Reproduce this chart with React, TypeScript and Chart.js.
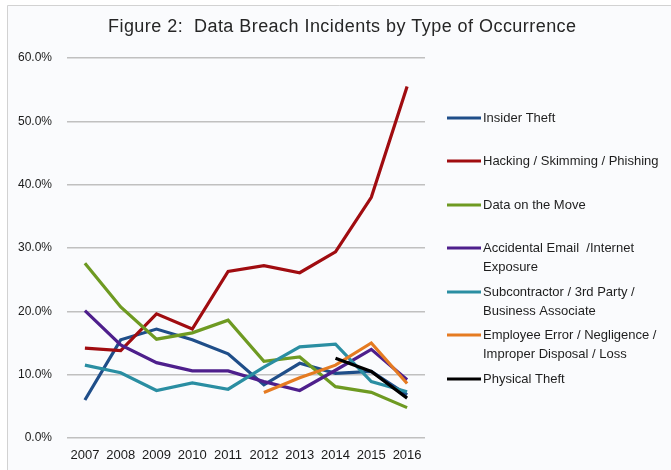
import React, { useEffect, useRef } from "react";
import { Chart, registerables } from "chart.js";

Chart.register(...registerables);

const years = ["2007", "2008", "2009", "2010", "2011", "2012", "2013", "2014", "2015", "2016"];
const insiderTheft = [6.0, 15.5, 17.2, 15.5, 13.3, 8.4, 11.8, 10.2, 10.5, 6.8];
const hacking = [14.2, 13.8, 19.6, 17.2, 26.3, 27.2, 26.1, 29.4, 38.0, 55.5];
const dataOnMove = [27.6, 20.7, 15.6, 16.6, 18.6, 12.1, 12.8, 8.1, 7.2, 4.8];
const accidental = [20.1, 14.7, 11.9, 10.6, 10.6, 8.9, 7.5, 10.7, 14.0, 9.2];
const subcontractor = [11.5, 10.3, 7.5, 8.7, 7.7, 11.2, 14.4, 14.8, 8.9, 7.3];
const employeeError = [null, null, null, null, null, 7.2, 9.5, 11.5, 15.0, 8.6];
const physicalTheft = [null, null, null, null, null, null, null, 12.6, 10.5, 6.3];

const seriesLabels = [
  "Insider Theft",
  "Hacking / Skimming / Phishing",
  "Data on the Move",
  "Accidental Email  /Internet\nExposure",
  "Subcontractor / 3rd Party /\nBusiness Associate",
  "Employee Error / Negligence /\nImproper Disposal / Loss",
  "Physical Theft",
];
const seriesColors = ["#1f4e89", "#a00c10", "#6e9a22", "#4e1f8c", "#2a8ea2", "#e57b22", "#000000"];
const seriesValues = [insiderTheft, hacking, dataOnMove, accidental, subcontractor, employeeError, physicalTheft];

const yTicks = [0, 10, 20, 30, 40, 50, 60];

const titleText = "Figure 2:  Data Breach Incidents by Type of Occurrence";

const overlayPlugin = {
  id: "overlay",
  beforeDraw(chart: any) {
    const ctx = chart.ctx;
    ctx.save();
    ctx.fillStyle = "#ffffff";
    ctx.fillRect(0, 0, chart.width, chart.height);
    ctx.fillStyle = "#fafbfd";
    ctx.fillRect(7, 5, chart.width - 7, chart.height - 5);
    ctx.strokeStyle = "#d2d2d2";
    ctx.lineWidth = 1;
    ctx.beginPath();
    ctx.moveTo(7.5, chart.height);
    ctx.lineTo(7.5, 5.5);
    ctx.lineTo(chart.width, 5.5);
    ctx.stroke();
    ctx.restore();
  },
  afterDraw(chart: any) {
    const ctx = chart.ctx;
    ctx.save();
    ctx.fillStyle = "#262626";
    ctx.font = '18px "Liberation Sans", Arial, sans-serif';
    try {
      (ctx as any).letterSpacing = "0.45px";
    } catch (e) {}
    ctx.textAlign = "left";
    ctx.textBaseline = "middle";
    ctx.fillText(titleText, 108, 27);
    try {
      (ctx as any).letterSpacing = "0px";
    } catch (e) {}

    // legend
    const entryTops = [118, 161, 205, 248, 292, 335, 379];
    ctx.font = '13px "Liberation Sans", Arial, sans-serif';
    ctx.textAlign = "left";
    chart.data.datasets.forEach((ds: any, i: number) => {
      const y = entryTops[i];
      ctx.strokeStyle = ds.borderColor;
      ctx.lineWidth = 3;
      ctx.beginPath();
      ctx.moveTo(447, y);
      ctx.lineTo(481, y);
      ctx.stroke();
      ctx.fillStyle = "#1e1e1e";
      String(ds.label)
        .split("\n")
        .forEach((line: string, k: number) => {
          ctx.fillText(line, 483, y + k * 19);
        });
    });
    ctx.restore();
  },
};

export default function App() {
  const ref = useRef<HTMLCanvasElement | null>(null);
  useEffect(() => {
    if (!ref.current) return;
    const n = seriesValues.length;
    const chart = new Chart(ref.current, {
      type: "line",
      data: {
        labels: years,
        datasets: seriesValues.map((vals, i) => ({
          label: seriesLabels[i],
          data: vals,
          borderColor: seriesColors[i],
          backgroundColor: seriesColors[i],
          borderWidth: 3.2,
          pointRadius: 0,
          tension: 0,
          fill: false,
          order: n - i,
        })),
      },
      options: {
        responsive: false,
        animation: false,
        devicePixelRatio: 1,
        layout: { padding: { top: 58, right: 246, left: 0, bottom: 0 } },
        plugins: {
          legend: { display: false },
          title: { display: false },
          tooltip: { enabled: false },
        },
        scales: {
          x: {
            offset: true,
            grid: { display: false, drawTicks: false },
            border: { display: false },
            ticks: {
              color: "#1a1a1a",
              font: { family: '"Liberation Sans", Arial, sans-serif', size: 13 },
              padding: 10,
              maxRotation: 0,
              autoSkip: false,
            },
            afterFit(scale: any) {
              scale.height = 32;
            },
          },
          y: {
            min: 0,
            max: 60,
            afterBuildTicks(scale: any) {
              scale.ticks = yTicks.map((v) => ({ value: v }));
            },
            grid: { color: "#c0c0c0", lineWidth: 1.5, drawTicks: false },
            border: { display: false },
            ticks: {
              color: "#1a1a1a",
              font: { family: '"Liberation Sans", Arial, sans-serif', size: 12 },
              padding: 15,
              callback: (v: any) => Number(v).toFixed(1) + "%",
            },
            afterFit(scale: any) {
              scale.width = 67;
            },
          },
        },
      },
      plugins: [overlayPlugin],
    });
    return () => chart.destroy();
  }, []);
  return (
    <div style={{ position: "fixed", left: 0, top: 0, width: 671, height: 470, background: "#ffffff" }}>
      <canvas ref={ref} width={671} height={470} style={{ width: 671, height: 470 }} />
    </div>
  );
}
